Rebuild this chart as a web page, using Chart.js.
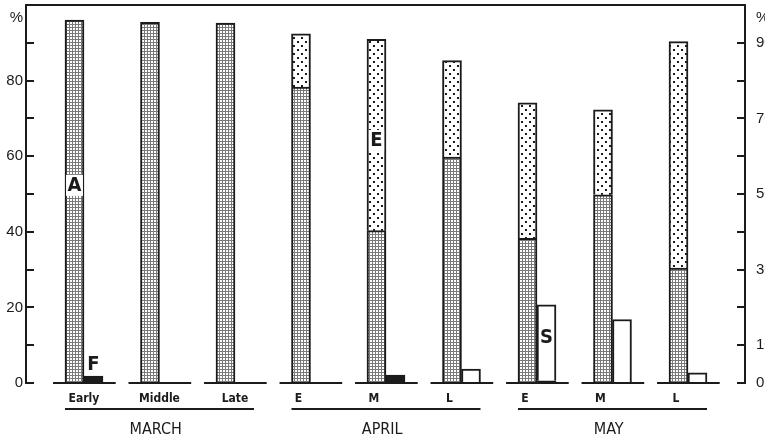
<!DOCTYPE html>
<html>
<head>
<meta charset="utf-8">
<script src="https://cdn.jsdelivr.net/npm/chart.js@4.4.1/dist/chart.umd.min.js"></script>
<style>
  html, body { margin: 0; padding: 0; background: #fff; }
</style>
</head>
<body>
<canvas id="chart" width="765" height="441"></canvas>
<script>
// Periods along the bottom, three per month
const periods = ['Early', 'Middle', 'Late', 'E', 'M', 'L', 'E', 'M', 'L'];
const months = ['MARCH', 'APRIL', 'MAY'];
const monthFirst = [0, 3, 6];
const monthLast = [2, 5, 8];

// Percentages (null = no bar)
const seriesA = [96.0, 95.4, 95.2, 78.3, 40.3, 59.8, 38.3, 49.8, 30.4];
const seriesE = [null, null, null, 14.1, 50.6, 25.5, 35.8, 22.5, 59.9];
const seriesF = [1.8, null, null, null, 2.1, null, 0.6, null, null];
const seriesS = [null, null, null, null, null, 3.7, 20.1, 16.8, 2.7];

const axisTicks = [0, 10, 20, 30, 40, 50, 60, 70, 80, 90];
const leftLabels = [0, 20, 40, 60, 80];
const rightLabels = [0, 10, 30, 50, 70, 90];
const PCT = 96.7; // where the "%" sign sits on both axes

// Letters written on the bars: dataset index, period index, height in %
const letterMarks = [
    { text: 'A', dataset: 0, period: 0, value: 52.4, box: true },
    { text: 'E', dataset: 1, period: 4, value: 64.3, box: true },
    { text: 'F', dataset: 2, period: 0, value: 5.0, box: false },
    { text: 'S', dataset: 3, period: 6, value: 12.3, box: false }
];

const INK = '#1b1b1b';
const NARROW = "'DejaVu Sans Condensed', 'Liberation Sans Narrow', 'Arial Narrow', sans-serif";
const PLAIN = "'Liberation Sans', Arial, sans-serif";
const BAR = 19;
const X_MIN = -0.768, X_MAX = 8.755;

function makePattern(w, h, draw) {
    const c = document.createElement('canvas');
    c.width = w;
    c.height = h;
    const g = c.getContext('2d');
    g.fillStyle = '#fff';
    g.fillRect(0, 0, w, h);
    draw(g);
    return g.createPattern(c, 'repeat');
}

// fine grey screen for A
const screen = makePattern(3, 3, g => {
    g.fillStyle = '#7a7a7a';
    g.fillRect(0, 0, 3, 1);
    g.fillRect(0, 0, 1, 3);
});

// staggered dots for E
const dots = makePattern(8, 8, g => {
    g.fillStyle = INK;
    g.fillRect(1, 1, 2, 2);
    g.fillRect(5, 5, 2, 2);
});

const toPoints = arr => arr.map((v, i) => ({ x: i, y: v }));

const hideTopTick = c => (c.tick && c.tick.value > 95) ? 'rgba(0,0,0,0)' : INK;

// y axes: fixed width, no extra room for the end labels
const fitY = w => s => {
    s.width = w;
    s.paddingTop = 0;
    s.paddingBottom = 0;
};

const inkPlugin = {
    id: 'ink',
    afterDatasetsDraw(chart) {
        const { ctx } = chart;
        const xs = chart.scales.x;
        const ys = chart.scales.y;
        const base = ys.getPixelForValue(0);
        ctx.save();
        ctx.strokeStyle = INK;
        ctx.lineWidth = 2;

        // short baseline under each period
        periods.forEach((p, i) => {
            ctx.beginPath();
            ctx.moveTo(xs.getPixelForValue(i - 0.41), base);
            ctx.lineTo(xs.getPixelForValue(i + 0.42), base);
            ctx.stroke();
        });

        // underline for each month
        const uy = chart.scales.xm.top;
        months.forEach((m, k) => {
            ctx.beginPath();
            ctx.moveTo(xs.getPixelForValue(monthFirst[k]) - BAR, uy);
            ctx.lineTo(xs.getPixelForValue(monthLast[k]) + BAR, uy);
            ctx.stroke();
        });

        // letters on the bars
        ctx.font = 'bold 20px ' + NARROW;
        ctx.textAlign = 'center';
        ctx.textBaseline = 'middle';
        letterMarks.forEach(m => {
            const el = chart.getDatasetMeta(m.dataset).data[m.period];
            const x = el.x;
            const y = ys.getPixelForValue(m.value);
            if (m.box) {
                const w = ctx.measureText(m.text).width + 3;
                ctx.fillStyle = '#fff';
                ctx.fillRect(x - w / 2, y - 10, w, 21);
            }
            ctx.fillStyle = INK;
            ctx.fillText(m.text, x, y + 1);
        });
        ctx.restore();
    }
};

new Chart(document.getElementById('chart'), {
    type: 'bar',
    data: {
        datasets: [
            { label: 'A', data: toPoints(seriesA), stack: 'main', backgroundColor: screen, borderColor: INK, borderWidth: 2 },
            { label: 'E', data: toPoints(seriesE), stack: 'main', backgroundColor: dots, borderColor: INK, borderWidth: 2 },
            { label: 'F', data: toPoints(seriesF), stack: 'side', backgroundColor: INK, borderColor: INK, borderWidth: 1 },
            { label: 'S', data: toPoints(seriesS), stack: 'side', backgroundColor: '#fff', borderColor: INK, borderWidth: 2 }
        ]
    },
    options: {
        responsive: false,
        animation: false,
        layout: { padding: 0 },
        datasets: { bar: { barThickness: BAR } },
        plugins: { legend: { display: false }, tooltip: { enabled: false } },
        scales: {
            x: {
                type: 'linear', position: 'bottom', weight: 0,
                min: X_MIN, max: X_MAX, offset: false,
                grid: { display: false }, border: { display: false },
                afterBuildTicks: s => { s.ticks = periods.map((p, i) => ({ value: p.length === 1 ? i - 0.16 : i })); },
                ticks: {
                    autoSkip: false, maxRotation: 0, padding: 1, color: INK,
                    font: { family: NARROW, size: 12, weight: 'bold' },
                    callback: (v, i) => periods[i]
                },
                afterFit: s => { s.height = 26; }
            },
            xm: {
                type: 'linear', position: 'bottom', weight: 1,
                min: X_MIN, max: X_MAX, offset: false,
                grid: { display: false }, border: { display: false },
                afterBuildTicks: s => { s.ticks = monthFirst.map((f, k) => ({ value: (f + monthLast[k]) / 2 - 0.05 })); },
                ticks: {
                    autoSkip: false, maxRotation: 0, padding: 3, color: INK,
                    font: { family: NARROW, size: 16 },
                    callback: (v, i) => months[i]
                },
                afterFit: s => { s.height = 32; }
            },
            xt: {
                type: 'linear', position: 'top',
                min: X_MIN, max: X_MAX, offset: false,
                grid: { display: false }, ticks: { display: false },
                border: { display: true, color: INK, width: 2 },
                afterFit: s => { s.height = 5; }
            },
            y: {
                position: 'left', stacked: true, min: 0, max: 100,
                afterBuildTicks: s => { s.ticks = axisTicks.concat([PCT]).map(v => ({ value: v })); },
                grid: { drawOnChartArea: false, tickLength: -8, lineWidth: 2, color: hideTopTick },
                border: { color: INK, width: 2 },
                ticks: {
                    autoSkip: false, padding: 11, color: INK,
                    font: { family: PLAIN, size: 15 },
                    callback: v => v === PCT ? '%' : (leftLabels.includes(v) ? String(v) : '')
                },
                afterFit: fitY(26)
            },
            y2: {
                position: 'right', min: 0, max: 100,
                afterBuildTicks: s => { s.ticks = axisTicks.concat([PCT]).map(v => ({ value: v })); },
                grid: { drawOnChartArea: false, tickLength: -8, lineWidth: 2, color: hideTopTick },
                border: { color: INK, width: 2 },
                ticks: {
                    autoSkip: false, padding: 19, color: INK,
                    font: { family: PLAIN, size: 15 },
                    callback: v => v === PCT ? '%' : (rightLabels.includes(v) ? String(v) : '')
                },
                afterFit: fitY(20)
            }
        }
    },
    plugins: [inkPlugin]
});
</script>
</body>
</html>
